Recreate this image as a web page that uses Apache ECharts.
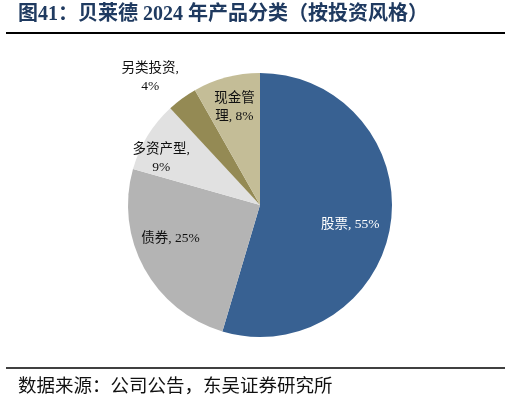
<!DOCTYPE html>
<html>
<head>
<meta charset="utf-8">
<script src="https://cdn.jsdelivr.net/npm/echarts@6/dist/echarts.min.js"></script>
<style>
html,body{margin:0;padding:0;background:#fff;}
#c{width:511px;height:401px;}
</style>
</head>
<body>
<div id="c"></div>
<script>
const titleText = '图41：贝莱德 2024 年产品分类（按投资风格）';
const sourceText = '数据来源：公司公告，东吴证券研究所';
const categories = ['股票', '债券', '多资产型', '另类投资', '现金管理'];
const values = [54.6, 24.8, 8.7, 3.7, 8.2];
const labelTexts = ['股票, 55%', '债券, 25%', '多资产型,\n9%', '另类投资,\n4%', '现金管\n理, 8%'];
const colors = ['#386192', '#b4b4b4', '#e1e1e1', '#948a54', '#c4bd97'];
const labelColors = ['#ffffff', '#111111', '#111111', '#111111', '#111111'];
const labelDx = [22, -29, -40, -69, -8];
const labelDy = [10, 0, -10, -72, -31];

const FONT = "'Liberation Serif', 'Noto Sans CJK SC', serif";

const chart = echarts.init(document.getElementById('c'), null, {renderer: 'canvas'});
chart.setOption({
  animation: false,
  backgroundColor: '#ffffff',
  graphic: [
    {type: 'text', left: 18, top: 5, style: {text: titleText, fontSize: 20, fontWeight: 'bold', fontFamily: FONT, fill: '#1f3a60'}},
    {type: 'line', shape: {x1: 6, y1: 33, x2: 505, y2: 33}, style: {stroke: '#000', lineWidth: 2}},
    {type: 'line', shape: {x1: 6, y1: 368, x2: 505, y2: 368}, style: {stroke: '#000', lineWidth: 1.5}},
    {type: 'text', left: 18, top: 378, style: {text: sourceText, fontSize: 18.5, fontFamily: FONT, fill: '#111'}}
  ],
  series: [{
    type: 'pie',
    center: [260, 205],
    radius: 132,
    startAngle: 90,
    clockwise: true,
    avoidLabelOverlap: false,
    label: {
      show: true,
      position: 'inside',
      fontSize: 13.5,
      fontFamily: FONT,
      lineHeight: 18,
      align: 'center',
      formatter: function (p) { return labelTexts[p.dataIndex]; }
    },
    labelLine: {show: false},
    labelLayout: function (p) { return {dx: labelDx[p.dataIndex], dy: labelDy[p.dataIndex]}; },
    emphasis: {disabled: true},
    data: categories.map(function (c, i) {
      return {name: c, value: values[i], itemStyle: {color: colors[i]}, label: {color: labelColors[i]}};
    })
  }]
});
</script>
</body>
</html>
